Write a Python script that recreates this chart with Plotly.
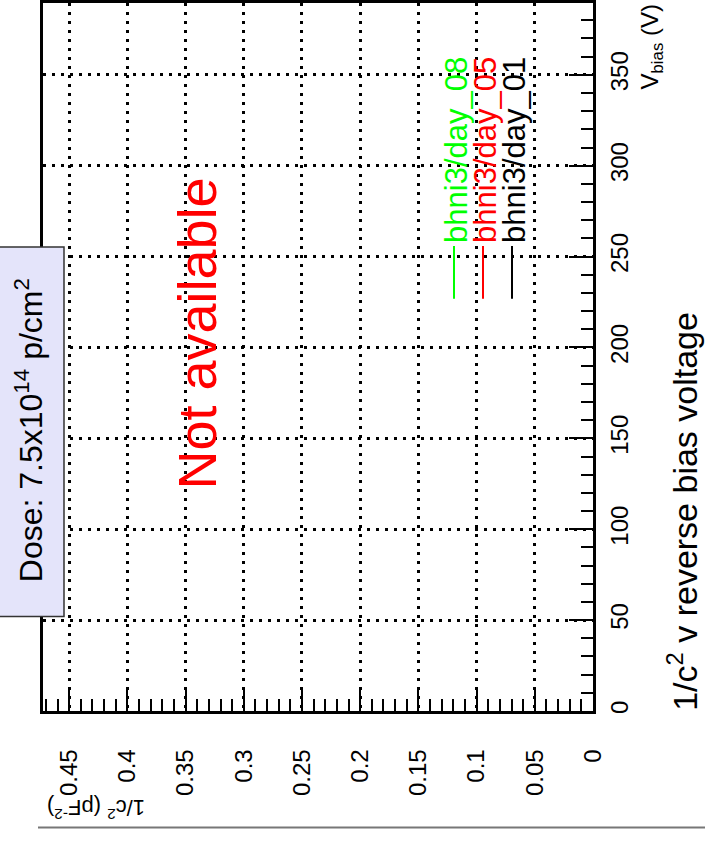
import plotly.graph_objects as go

# ---------------- data ----------------
series_names = ["bhni3/day_08", "bhni3/day_05", "bhni3/day_01"]
series_colors = ["#00ff00", "#ff0000", "#000000"]
# no measurements available for this dose
series_vbias = [[], [], []]
series_invc2 = [[], [], []]

invc2_ticks = [0, 0.05, 0.1, 0.15, 0.2, 0.25, 0.3, 0.35, 0.4, 0.45]
invc2_ticklabels = ["0", "0.05", "0.1", "0.15", "0.2", "0.25", "0.3", "0.35", "0.4", "0.45"]
vbias_ticks = [0, 50, 100, 150, 200, 250, 300, 350]
vbias_ticklabels = ["0", "50", "100", "150", "200", "250", "300", "350"]
invc2_range = [0.4725, 0.0]
vbias_range = [0.0, 389.5]

title_text = "1/c<sup>2</sup> v reverse bias voltage"
xtitle_text = "V<sub>bias</sub> (V)"
ytitle_text = "1/c<sup>2</sup> (pF<sup>-2</sup>)"
dose_text = "Dose: 7.5x10<sup>14</sup> p/cm<sup>2</sup>"
na_text = "Not available"

# ---------------- layout helpers ----------------
W, H = 705, 843
L, R, T, B = 43, 593, 0, 711
FONT = "Liberation Sans, Arial, Helvetica, sans-serif"


def px(x):
    return (x - L) / (R - L)


def py(y):
    return (B - y) / (B - T)


fig = go.Figure()
for name, col, xs, ys in zip(series_names, series_colors, series_invc2, series_vbias):
    fig.add_trace(go.Scatter(x=xs, y=ys, mode="lines", name=name,
                             line=dict(color=col, width=2), showlegend=False))

fig.update_layout(
    width=W, height=H, autosize=False,
    margin=dict(l=L, r=W - R, t=T, b=H - B, pad=0),
    paper_bgcolor="white", plot_bgcolor="white",
    font=dict(family=FONT, color="black"),
    showlegend=False,
)

fig.update_xaxes(
    range=invc2_range, tickmode="array", tickvals=invc2_ticks, ticktext=invc2_ticklabels,
    tickangle=-90, tickfont=dict(size=24, family=FONT, color="black"),
    ticks="inside", ticklen=24, tickwidth=2, tickcolor="black",
    ticklabelstandoff=26,
    minor=dict(dtick=0.01, tick0=0, ticks="inside", ticklen=12, tickwidth=2,
               tickcolor="black", showgrid=False),
    showline=True, linecolor="black", linewidth=2.5, mirror=True,
    showgrid=True, gridcolor="black", gridwidth=2.5, griddash="3px,6px",
    zeroline=False,
)
fig.update_yaxes(
    range=vbias_range, side="right", tickmode="array", tickvals=vbias_ticks,
    ticktext=vbias_ticklabels,
    tickangle=-90, tickfont=dict(size=24, family=FONT, color="black"),
    ticks="inside", ticklen=24, tickwidth=2, tickcolor="black",
    ticklabelstandoff=3,
    minor=dict(dtick=10, tick0=0, ticks="inside", ticklen=12, tickwidth=2,
               tickcolor="black", showgrid=False),
    showline=True, linecolor="black", linewidth=2.5, mirror=True,
    showgrid=True, gridcolor="black", gridwidth=2.5, griddash="3px,6px",
    zeroline=False,
)

shapes = []
annotations = []

# dose box
shapes.append(dict(type="rect", xref="paper", yref="paper",
                   x0=px(-2), x1=px(64), y0=py(616), y1=py(245),
                   fillcolor="#e4e4fa", line=dict(color="#333333", width=1.5),
                   layer="above"))
annotations.append(dict(text=dose_text, xref="paper", yref="paper",
                        x=px(29), y=py(429), xanchor="center", yanchor="middle",
                        textangle=-90, showarrow=False,
                        font=dict(size=32, family=FONT, color="black")))

# not available
annotations.append(dict(text=na_text, xref="paper", yref="paper",
                        x=px(197), y=py(332), xanchor="center", yanchor="middle",
                        textangle=-90, showarrow=False,
                        font=dict(size=54, family=FONT, color="#ff0000")))

# legend (rotated)
leg_x = [454, 483, 512]
for name, col, lx in zip(series_names, series_colors, leg_x):
    shapes.append(dict(type="line", xref="paper", yref="paper",
                       x0=px(lx), x1=px(lx), y0=py(297), y1=py(244),
                       line=dict(color=col, width=2)))
    annotations.append(dict(text=name, xref="paper", yref="paper",
                            x=px(lx + 3), y=py(243), xanchor="center", yanchor="bottom",
                            textangle=-90, showarrow=False,
                            font=dict(size=31, family=FONT, color=col)))

# axis titles
annotations.append(dict(text=xtitle_text, xref="paper", yref="paper",
                        x=px(651), y=py(0), xanchor="center", yanchor="top",
                        textangle=-90, showarrow=False,
                        font=dict(size=24, family=FONT, color="black")))
annotations.append(dict(text=ytitle_text, xref="paper", yref="paper",
                        x=px(96), y=py(810), xanchor="center", yanchor="middle",
                        textangle=180, showarrow=False,
                        font=dict(size=22, family=FONT, color="black")))
annotations.append(dict(text=title_text, xref="paper", yref="paper",
                        x=px(683), y=py(511), xanchor="center", yanchor="middle",
                        textangle=-90, showarrow=False,
                        font=dict(size=34, family=FONT, color="black")))

# bottom separator line
shapes.append(dict(type="line", xref="paper", yref="paper",
                   x0=px(38), x1=px(706), y0=py(828), y1=py(828),
                   line=dict(color="#777777", width=2)))

fig.update_layout(shapes=shapes, annotations=annotations)
fig.write_html("out.html")
